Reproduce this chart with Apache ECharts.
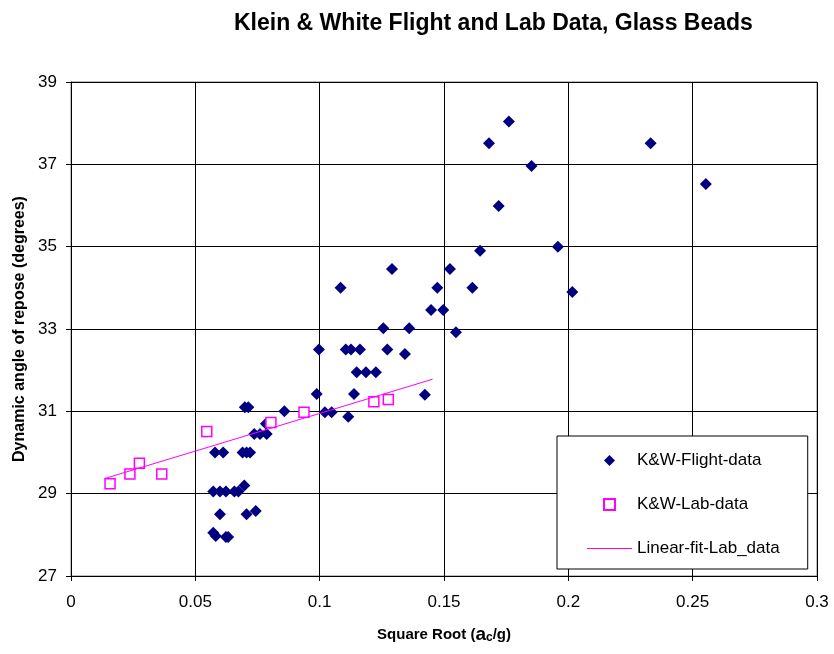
<!DOCTYPE html>
<html>
<head>
<meta charset="utf-8">
<title>Klein & White Flight and Lab Data, Glass Beads</title>
<script src="https://cdn.jsdelivr.net/npm/echarts@6/dist/echarts.min.js"></script>
<style>
    html, body { margin: 0; padding: 0; background: #fff; }
    #chart { width: 834px; height: 654px; }
</style>
</head>
<body>
<div id="chart"></div>
<script>
// Flight data (square root of ac/g, dynamic angle of repose)
const flightX = [
    0.0572, 0.0582, 0.0623, 0.0632, 0.0599, 0.0706, 0.0743,
    0.0572, 0.0599, 0.0623, 0.0657, 0.0673, 0.0697,
    0.0579, 0.0612, 0.0690, 0.0706, 0.0720,
    0.0737, 0.0760, 0.0787, 0.0784, 0.0699, 0.0713, 0.0858,
    0.0988, 0.1021, 0.1048, 0.1115, 0.1138, 0.1423,
    0.0997, 0.1105, 0.1126, 0.1162, 0.1272, 0.1343,
    0.1149, 0.1186, 0.1226, 0.1256, 0.1360, 0.1548,
    0.1084, 0.1291, 0.1448, 0.1497, 0.1473, 0.1524, 0.1614,
    0.1645, 0.1958, 0.2016, 0.1681, 0.1761, 0.2331, 0.1852, 0.2553, 0.1720
];
const flightY = [
    28.05, 27.97, 27.95, 27.95, 28.5, 28.5, 28.58,
    29.05, 29.05, 29.05, 29.05, 29.05, 29.2,
    30.0, 30.0, 30.0, 30.0, 30.0,
    30.45, 30.45, 30.45, 30.7, 31.1, 31.1, 31.0,
    31.42, 30.98, 30.98, 30.87, 31.42, 31.4,
    32.5, 32.5, 32.5, 32.5, 32.5, 32.39,
    31.95, 31.95, 31.95, 33.02, 33.02, 32.92,
    34.0, 34.46, 33.46, 33.46, 34.0, 34.46, 34.0,
    34.9, 35.0, 33.9, 37.51, 38.04, 37.51, 36.96, 36.52, 35.99
];

// Lab data
const labX = [0.0157, 0.0237, 0.0275, 0.0365, 0.0546, 0.0804, 0.0937, 0.1218, 0.1276];
const labY = [29.24, 29.48, 29.74, 29.48, 30.51, 30.73, 30.98, 31.23, 31.29];

// Linear fit of lab data (end points)
const fitX = [0.0137, 0.1454];
const fitY = [29.37, 31.78];

const seriesNames = ['K&W-Flight-data', 'K&W-Lab-data', 'Linear-fit-Lab_data'];

const zip = (xs, ys) => xs.map((x, i) => [x, ys[i]]);

const font = 'Liberation Sans, Arial, sans-serif';

const chart = echarts.init(document.getElementById('chart'));

const option = {
    backgroundColor: '#fff',
    animation: false,
    title: {
        text: 'Klein & White Flight and Lab Data, Glass Beads',
        left: 229,
        top: 7,
        textStyle: {
            fontFamily: font,
            fontSize: 23,
            fontWeight: 'bold',
            color: '#000'
        }
    },
    grid: {
        left: 71,
        right: 17,
        top: 82,
        bottom: 78,
        show: true,
        borderColor: '#808080',
        borderWidth: 1,
        backgroundColor: '#fff'
    },
    legend: {
        orient: 'vertical',
        left: 557,
        top: 436,
        padding: [16, 28, 12, 30],
        itemWidth: 45,
        itemHeight: 11,
        itemGap: 27,
        symbolKeepAspect: true,
        backgroundColor: '#fff',
        borderColor: '#000',
        borderWidth: 1,
        textStyle: { fontFamily: font, fontSize: 17, lineHeight: 17, color: '#000' },
        data: [
            { name: seriesNames[0], icon: 'path://M5,0 L10,5 L5,10 L0,5 Z' },
            { name: seriesNames[1], icon: 'path://M0,0 L10,0 L10,10 L0,10 Z' },
            { name: seriesNames[2], icon: 'path://M0,0 L45,0 L45,1 L0,1 Z', itemStyle: { color: '#ff00ff' } }
        ]
    },
    xAxis: {
        type: 'value',
        min: 0,
        max: 0.3,
        interval: 0.05,
        name: '{t|Square Root (}{a|a}{c|c}{t|/g)}',
        nameLocation: 'middle',
        nameGap: 49,
        nameTextStyle: {
            rich: {
                t: { fontFamily: font, fontSize: 15, fontWeight: 'bold', color: '#000' },
                a: { fontFamily: font, fontSize: 19, fontWeight: 'bold', color: '#000' },
                c: { fontFamily: font, fontSize: 12, fontWeight: 'bold', color: '#000', verticalAlign: 'bottom', padding: [6, 0, 0, 0] }
            }
        },
        axisLine: { show: true, lineStyle: { color: '#000', width: 1 } },
        axisTick: { show: true, length: 5, lineStyle: { color: '#000' } },
        axisLabel: { fontFamily: font, fontSize: 17, color: '#000', margin: 18 },
        splitLine: { show: true, lineStyle: { color: '#000', width: 1 } }
    },
    yAxis: {
        type: 'value',
        min: 27,
        max: 39,
        interval: 2,
        name: 'Dynamic angle of repose (degrees)',
        nameLocation: 'middle',
        nameGap: 42,
        nameTextStyle: { fontFamily: font, fontSize: 16, fontWeight: 'bold', color: '#000' },
        axisLine: { show: true, lineStyle: { color: '#000', width: 1 } },
        axisTick: { show: true, length: 5, lineStyle: { color: '#000' } },
        axisLabel: { fontFamily: font, fontSize: 17, color: '#000', margin: 14 },
        splitLine: { show: true, lineStyle: { color: '#000', width: 1 } }
    },
    series: [
        {
            name: seriesNames[0],
            type: 'scatter',
            symbol: 'diamond',
            symbolSize: 12,
            itemStyle: { color: '#000080', opacity: 1 },
            data: zip(flightX, flightY)
        },
        {
            name: seriesNames[1],
            type: 'scatter',
            symbol: 'rect',
            symbolSize: 10,
            itemStyle: { color: '#fff', borderColor: '#ff00ff', borderWidth: 1.5, opacity: 1 },
            data: zip(labX, labY)
        },
        {
            name: seriesNames[2],
            type: 'line',
            symbol: 'none',
            lineStyle: { color: '#ff00ff', width: 1 },
            itemStyle: { color: '#ff00ff' },
            data: zip(fitX, fitY)
        }
    ]
};

chart.setOption(option);
</script>
</body>
</html>
